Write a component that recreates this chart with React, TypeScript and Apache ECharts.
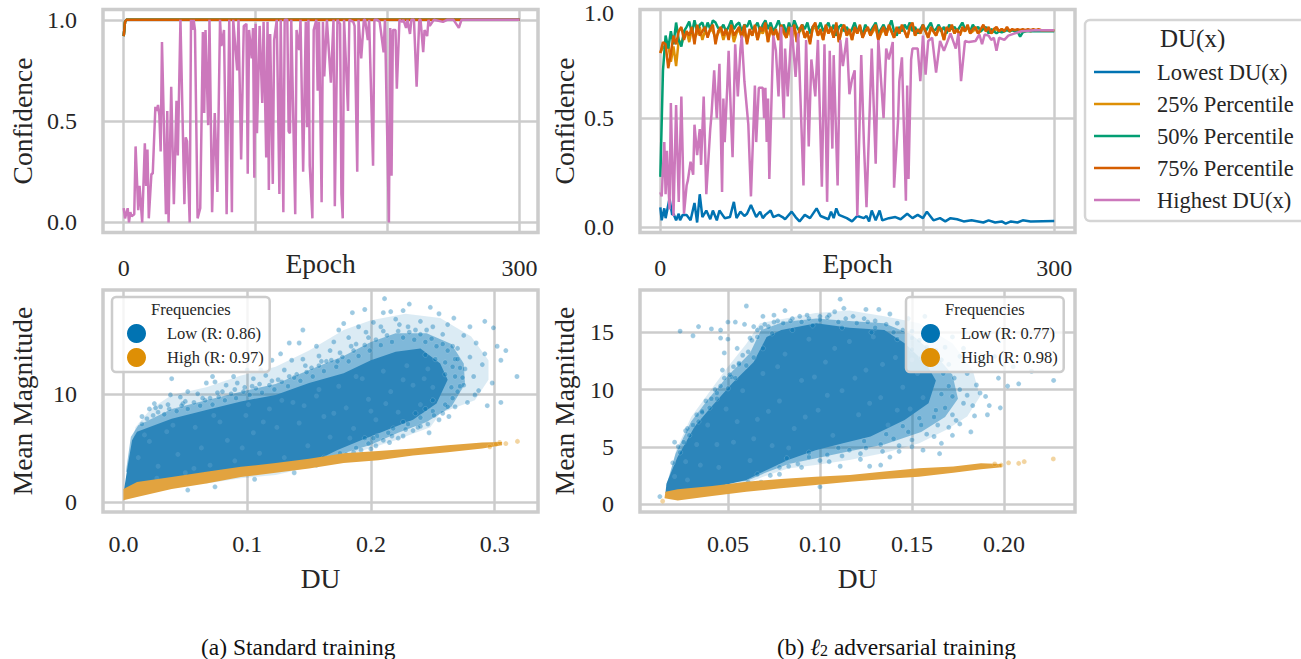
import React, { useEffect, useRef } from "react";
import * as echarts from "echarts";

const BLUE = "#0173b2", YELLOW = "#de8f05", GREEN = "#029e73", ORANGE = "#d55e00", PINK = "#cc78bc";
const FONT = "'Liberation Serif', serif";
const INK = "#262626";
const RULE = "#cccccc";

const lineNames = ["Lowest DU(x)", "25% Percentile", "50% Percentile", "75% Percentile", "Highest DU(x)"];

// Standard training: the four lower lines sit together at 1.0
const stdFlat = [[0, 0.92], [1, 0.99], [2, 1], [300, 1]];
const stdHighest = [[0,.07],[1,.02],[3,.07],[4,0],[5,.05],[6,.03],[8,.04],[9,.375],[11,.06],[12,.18],[14,0],[16,.39],[17,.18],[18,.36],[19,.02],[21,.24],[22,.24],[24,.57],[25,.55],[26,.58],[27,.53],[28,.35],[29,.89],[32,.04],[33,.55],[34,0],[36,.67],[38,.09],[40,.6],[41,.33],[43,1],[46,.09],[47,.42],[48,.4],[50,0],[51,1],[52,.95],[53,1],[54,.95],[56,.02],[58,.07],[60,.94],[61,.54],[62,.95],[64,.48],[65,1],[67,.05],[69,.54],[71,.15],[73,1],[74,.87],[76,.95],[78,.04],[80,1],[82,.05],[83,1],[86,.75],[87,1],[89,.31],[91,.97],[93,.98],[94,.24],[95,.95],[97,.81],[98,.96],[99,.22],[100,.98],[101,.44],[103,.97],[105,.59],[106,.99],[108,.32],[109,.99],[110,.16],[111,.93],[113,.19],[114,.9],[116,1],[118,.14],[119,1],[121,.05],[122,1],[124,1],[125,.45],[126,.44],[127,1],[130,.04],[131,.95],[133,.85],[134,1],[136,.25],[138,.99],[139,.47],[140,1],[141,.28],[143,.02],[144,.95],[146,1],[147,.65],[148,.99],[150,.1],[151,.99],[152,.72],[154,1],[157,.69],[159,1],[160,.08],[162,1],[164,.98],[165,.14],[166,.02],[167,1],[170,.55],[171,1],[174,.99],[175,.97],[177,.25],[178,1],[180,.81],[182,1],[183,1],[185,.9],[186,1],[189,.28],[190,1],[192,1],[194,.99],[197,.84],[198,1],[201,0],[202,.96],[203,.23],[204,.95],[206,.95],[207,.66],[209,1],[211,.99],[212,1],[214,.96],[215,1],[217,.93],[218,1],[220,1],[222,.67],[224,1],[225,1],[227,.84],[228,.95],[230,.92],[231,1],[232,.97],[235,1],[242,.99],[245,1],[250,1],[254,.96],[256,1],[300,1]];

// Adversarial training
const advLowest = [[0,.09],[1,.03],[3,.085],[4,.04],[6,.1],[7,.13],[9,.055],[10,.06],[12,.03],[14,.06],[15,.03],[17,.055],[20,.055],[23,.03],[26,.11],[28,.02],[30,.15],[32,.045],[35,.075],[38,.035],[40,.075],[43,.03],[45,.075],[49,.04],[53,.045],[56,.115],[58,.04],[61,.07],[64,.05],[66,.06],[69,.1],[73,.045],[76,.07],[78,.04],[80,.055],[84,.075],[86,.045],[90,.055],[93,.045],[95,.035],[100,.07],[103,.045],[106,.025],[110,.055],[114,.04],[119,.085],[122,.05],[128,.035],[130,.07],[132,.04],[134,.085],[136,.055],[142,.04],[146,.025],[150,.05],[155,.04],[157,.05],[159,.025],[161,.075],[164,.03],[167,.075],[169,.03],[174,.04],[179,.045],[183,.035],[188,.06],[192,.04],[196,.055],[200,.04],[203,.07],[208,.03],[213,.04],[217,.025],[221,.04],[226,.035],[231,.025],[237,.03],[242,.025],[246,.02],[250,.03],[255,.02],[260,.025],[263,.015],[267,.025],[272,.02],[276,.03],[282,.025],[300,.027]];
const advP25 = [.80,.83,.82,.84,.76,.83,.74,.86,.84,.88,.90,.85,.91,.87,.89,.92,.86,.90,.88,.91,.90,.87,.89,.91,.86,.90,.88,.92,.85,.89,.91,.87,.90,.85,.90,.88,.92,.86,.90,.89,.92,.85,.91,.88,.90,.86,.92,.89,.87,.91,.86,.92,.85,.90,.91,.87,.89,.85,.91,.92,.88,.90,.86,.92,.89,.91,.87,.93,.85,.90,.92,.88,.90,.86,.91,.89,.92,.87,.90,.91,.88,.90,.92,.86,.89,.91,.88,.92,.90,.87,.91,.89,.92,.90,.87,.91,.93,.88,.90,.89,.92,.90,.87,.91,.90,.88,.91,.90,.86,.91,.90,.92,.89,.91,.88,.91,.90,.92,.89,.90,.91,.89,.90,.92,.90,.91,.89,.90,.91,.90,.91,.90,.91,.90,.905,.90,.905,.90,.905,.90,.905,.90,.905,.905,.905,.905,.905,.905,.905,.905,.905];
const advP50 = [.23,.72,.88,.82,.90,.84,.94,.86,.83,.90,.92,.945,.89,.95,.90,.93,.94,.90,.94,.91,.95,.94,.915,.91,.93,.90,.92,.95,.91,.93,.94,.90,.93,.92,.95,.91,.92,.94,.90,.93,.95,.91,.94,.90,.92,.95,.91,.93,.89,.94,.90,.95,.92,.90,.93,.91,.94,.89,.92,.93,.91,.94,.90,.92,.94,.90,.93,.88,.92,.93,.90,.92,.89,.91,.94,.90,.92,.88,.93,.91,.90,.92,.94,.89,.91,.93,.90,.92,.95,.90,.88,.92,.90,.93,.91,.94,.90,.92,.89,.91,.93,.90,.92,.94,.90,.91,.93,.90,.92,.89,.93,.91,.92,.90,.92,.94,.91,.92,.90,.93,.91,.92,.90,.91,.92,.89,.91,.90,.89,.90,.895,.90,.905,.90,.905,.90,.90,.875,.895,.90,.90,.90,.90,.90,.90,.90,.90,.90,.90,.90,.90];
const advP75 = [.80,.85,.84,.73,.80,.88,.84,.90,.92,.86,.90,.88,.92,.84,.93,.88,.90,.92,.87,.91,.93,.84,.90,.92,.88,.91,.86,.93,.88,.90,.92,.87,.93,.84,.91,.88,.93,.86,.92,.90,.94,.85,.92,.88,.91,.86,.93,.90,.87,.92,.89,.93,.85,.91,.93,.87,.90,.84,.92,.94,.88,.91,.86,.93,.89,.92,.87,.94,.85,.91,.93,.88,.91,.86,.92,.89,.93,.87,.90,.92,.88,.91,.93,.86,.90,.92,.88,.93,.90,.87,.92,.89,.93,.90,.87,.92,.94,.88,.91,.89,.93,.90,.87,.92,.90,.88,.92,.91,.86,.92,.90,.93,.89,.91,.88,.92,.90,.93,.89,.91,.92,.89,.91,.93,.90,.92,.89,.91,.92,.90,.91,.90,.92,.90,.91,.905,.91,.905,.91,.905,.91,.905,.91,.905,.91,.905,.905,.905,.905,.905,.905];
const advHighest = [[0,.16],[1,.14],[3,.39],[4,.15],[5,.35],[7,.08],[8,.57],[10,.05],[12,.56],[14,.115],[16,.6],[18,.06],[20,.19],[21,.215],[23,.3],[25,.24],[26,.47],[28,.33],[30,.45],[31,.285],[33,.6],[35,.15],[38,.45],[39,.52],[41,.72],[43,.5],[45,.75],[47,.16],[48,.59],[49,.39],[51,.65],[52,.81],[54,.47],[55,.32],[57,.84],[59,.6],[61,.82],[62,.88],[64,.67],[67,.47],[69,.14],[72,.65],[73,.39],[75,.64],[78,.64],[79,.5],[80,.64],[81,.39],[82,.59],[83,.22],[86,.88],[88,.81],[90,.6],[92,.92],[93,.65],[94,.5],[95,.82],[97,.6],[99,.82],[100,.92],[103,.69],[105,.89],[109,.19],[111,.86],[113,.37],[115,.77],[118,.6],[120,.86],[123,.185],[125,.84],[127,.115],[129,.81],[131,.36],[132,.79],[135,.19],[137,.86],[139,.74],[142,.87],[144,.61],[146,.68],[148,.72],[150,.05],[153,.79],[155,.39],[157,.09],[161,.82],[164,.29],[166,.86],[170,.5],[172,.82],[174,.77],[177,.85],[178,.18],[181,.485],[182,.67],[184,.78],[187,.12],[188,.65],[189,.22],[191,.77],[192,.82],[196,.82],[198,.67],[200,.88],[202,.7],[204,.855],[207,.87],[210,.71],[213,.855],[216,.81],[221,.89],[225,.82],[227,.89],[229,.67],[232,.855],[235,.85],[240,.855],[243,.885],[245,.84],[247,.885],[250,.88],[252,.86],[254,.87],[256,.81],[258,.87],[262,.86],[265,.88],[270,.89],[275,.9],[285,.905],[300,.905]];

// DU vs magnitude: outlines of the saturated clouds and the loose points around them
const stdLowCore = [[.0006,1.2],[.0033,3.2],[.007,5.7],[.011,6.5],[.039,7.7],[.067,8.5],[.095,9.3],[.123,9.9],[.15,11],[.178,11.9],[.2,13.1],[.22,13.9],[.24,14.2],[.256,12.8],[.262,11.3],[.253,9.1],[.234,7.6],[.212,6.6],[.192,5.7],[.173,4.8],[.15,3.5],[.123,2.9],[.095,2.5],[.067,2],[.039,1.5],[.011,1.1]];
const stdLowMid = [[.002,2.8],[.006,6],[.012,7.1],[.039,8.6],[.067,9.4],[.095,10.2],[.123,10.9],[.15,12.2],[.178,13.5],[.2,14.8],[.22,15.6],[.245,15.6],[.265,14.6],[.275,12.8],[.276,10.9],[.265,8.8],[.245,7.4],[.222,6.4],[.2,5.3],[.178,4.5],[.15,3.4],[.123,2.8],[.095,2.4],[.067,1.9]];
const stdLowHaze = [[.0033,3.2],[.0097,6.9],[.022,8.6],[.039,9.9],[.067,10.6],[.095,11.7],[.123,12.5],[.15,14],[.178,15.9],[.2,16.8],[.228,17.4],[.256,17],[.281,15.3],[.295,13.1],[.295,11.3],[.284,9.4],[.256,8.2],[.248,6.9],[.22,5.7],[.178,4.2],[.15,3.2],[.123,2.5],[.095,2.2],[.067,1.7]];
const stdHighBand = [[0,.15],[0,1.2],[.011,1.85],[.039,2.3],[.067,2.8],[.095,3.25],[.123,3.6],[.15,4],[.178,4.5],[.206,4.7],[.234,4.95],[.262,5.25],[.29,5.5],[.306,5.55],[.306,5.25],[.29,4.95],[.262,4.6],[.234,4.3],[.206,3.85],[.178,3.6],[.15,3.1],[.123,2.7],[.095,2.3],[.067,1.7],[.039,1.2],[.011,.45]];
const stdLowDots = [[.211,18.8],[.231,18.3],[.248,18],[.185,17.5],[.195,17.8],[.21,17.5],[.216,17.6],[.226,17.7],[.255,17.4],[.267,17],[.292,16.7],[.299,16.1],[.145,15.9],[.174,15.9],[.178,16.5],[.28,16.2],[.309,14],[.302,14.4],[.305,13.1],[.318,11.6],[.305,9.2],[.294,8.9],[.29,12.7],[.298,11],[.284,9.9],[.287,10.3],[.039,11.4],[.072,11.6],[.074,11.1],[.067,11],[.089,11.6],[.1,12.2],[.111,12.2],[.12,13.1],[.127,13.7],[.134,14.7],[.142,14.7],[.156,14.4],[.167,14],[.136,13.1],[.025,9.1],[.038,9.9],[.052,10.2],[.021,8.6],[.015,7.9],[.03,8.8],[.046,9.7],[.06,10],[.083,10.8],[.092,11],[.105,11.4],[.115,11.7],[.13,12.2],[.145,13.2],[.158,13.5],[.17,14.8],[.182,15.2],[.19,16.2],[.202,16.6],[.22,16.9],[.24,16.7],[.262,16.4],[.275,15.4],[.285,14.7],[.292,13.7],[.28,13.4],[.27,14.2],[.276,12.3],[.283,11.6],[.272,10.7],[.278,9.2],[.268,8.8],[.263,7.9],[.255,7.6],[.247,6.4],[.238,6.9],[.226,6.1],[.215,5.5],[.2,4.9],[.188,5],[.16,3.6],[.052,1.1],[.074,1.4],[.106,2.1],[.138,2.7],[.048,9.1],[.07,9.6],[.08,10.2],[.098,10.6],[.11,10.9],[.125,11.3],[.14,11.8],[.152,12.4],[.164,13],[.175,13.8],[.188,14.6],[.198,15.2],[.21,15.8],[.23,16.2],[.245,15.9],[.258,15.5],[.268,13.2],[.274,11.5],[.26,9],[.25,8.4],[.24,7.8],[.23,7.2],[.218,6.8],[.205,6.1],[.195,5.9],[.175,4.5]];
const stdLowRim = [[.015,7.2],[.019,7.7],[.024,8],[.028,8.3],[.033,8.1],[.037,8.6],[.043,8.4],[.047,8.9],[.052,8.6],[.057,9.2],[.062,8.9],[.066,9.4],[.072,9],[.077,9.7],[.082,9.4],[.087,10],[.091,9.6],[.097,10.2],[.102,9.9],[.107,10.5],[.112,10.1],[.118,10.8],[.122,10.4],[.128,11.1],[.133,10.7],[.138,11.5],[.143,11.2],[.148,12],[.153,11.6],[.158,12.6],[.162,12.1],[.168,13.1],[.172,12.5],[.177,13.4],[.182,13],[.186,14],[.19,13.5],[.195,14.5],[.199,14],[.204,15],[.208,14.5],[.213,15.4],[.217,14.8],[.222,15.8],[.226,15.2],[.231,15.7],[.235,15],[.24,15.5],[.244,14.8],[.249,15.1],[.253,14.4],[.258,14.6],[.262,14],[.266,14.4],[.27,13.2],[.266,12.5],[.272,12.4],[.268,11.6],[.275,10.8],[.27,10.2],[.266,9.6],[.262,8.8],[.258,8.2],[.251,8],[.246,7.2],[.24,7],[.234,6.6],[.228,6.7],[.222,5.9],[.217,6.1],[.21,5.7],[.204,5.2],[.198,5.4],[.192,4.8],[.186,4.6],[.18,4.4],[.174,4.2],[.168,3.9],[.162,4.1],[.156,3.4],[.236,15.9],[.25,16.2],[.223,16.4],[.208,16.2],[.196,15.7],[.184,14.4],[.173,13],[.16,13],[.147,12.6],[.134,11.6],[.12,11.2],[.104,10.7],[.09,10.4],[.076,10.1],[.064,9.6],[.05,9.3],[.036,9],[.026,8.7],[.244,13.6],[.252,13.2],[.26,12.9],[.26,11.8],[.265,10.6],[.25,9.4],[.244,8.6],[.236,8.2],[.226,7.4],[.214,6.4],[.202,5.9]];
const stdCoreSpeckle = [[.012,4.1],[.021,5.6],[.028,3.3],[.035,6.5],[.044,4.4],[.05,2.7],[.058,6.9],[.063,5],[.07,3.4],[.078,7.4],[.084,5.7],[.09,3.8],[.099,8],[.105,6.4],[.11,4.5],[.118,8.6],[.124,6.9],[.13,4.1],[.137,9.2],[.142,7.3],[.149,5.2],[.156,9.8],[.162,7.9],[.167,6],[.174,10.7],[.18,8.7],[.186,6.8],[.193,11.4],[.198,9.5],[.204,7.6],[.21,12.1],[.216,10.2],[.222,8.3],[.229,12.6],[.234,10.8],[.24,9],[.246,12.3],[.25,10.6],[.017,6.2],[.04,7.1],[.073,8],[.101,9],[.128,9.4],[.158,10.4],[.188,11.6],[.212,9.1],[.226,11.3],[.243,11.4],[.027,2.2],[.057,3.1],[.096,5],[.113,7.4],[.146,8.9],[.17,8.2],[.2,8.4],[.183,5.9]];
const stdHighDots = [[.3184,5.6],[.309,5.4],[.301,5.35],[.296,5.1],[.304,5.5]];
const advLowCore = [[.016,.93],[.0166,1.8],[.0226,4.1],[.032,6.8],[.041,8.5],[.0526,10.6],[.064,12.4],[.071,14.6],[.079,15.2],[.098,15.8],[.116,15.4],[.135,15.2],[.146,14.05],[.1575,12.3],[.163,10.8],[.159,8.8],[.146,7.35],[.1275,5.9],[.1125,5.3],[.0976,4.7],[.0826,3.85],[.0714,3],[.06,2.1],[.041,1.4],[.0226,.93]];
const advLowMid = [[.0165,1.6],[.0215,4.4],[.03,7.2],[.039,9.1],[.05,11.2],[.062,13.2],[.068,15.2],[.08,15.9],[.098,16.2],[.116,16],[.135,15.8],[.15,14.8],[.163,13],[.172,11.3],[.175,9.2],[.168,7.6],[.155,6.3],[.135,5.2],[.116,4.6],[.098,4],[.083,3.5],[.07,2.7],[.06,2]];
const advLowHaze = [[.017,1.5],[.0218,4.7],[.03,7.6],[.039,9.6],[.0486,11.7],[.06,14],[.0674,15.8],[.0976,16.7],[.116,16.9],[.135,16.4],[.154,15.8],[.172,14.05],[.183,11.7],[.187,9.4],[.18,7.65],[.169,6.5],[.154,5.3],[.135,4.45],[.116,3.85],[.0976,3.4],[.0826,3.1],[.0695,2.4],[.06,1.8]];
const advHighBand = [[.0155,.5],[.016,1.08],[.0227,1.28],[.0414,1.57],[.06,1.95],[.0788,2.19],[.0976,2.39],[.1163,2.54],[.135,2.83],[.1537,3.12],[.1725,3.27],[.1875,3.56],[.1987,3.5],[.1987,3.2],[.1875,3.03],[.1725,2.74],[.1537,2.39],[.135,2.19],[.1163,1.95],[.0976,1.66],[.0788,1.37],[.06,1.08],[.0414,.7],[.0227,.3]];
const advLowDots = [[.111,17.9],[.06,17.3],[.081,16.9],[.069,16.4],[.075,16.5],[.024,15.1],[.031,14.7],[.034,15.5],[.041,15.3],[.046,15.2],[.046,14.5],[.05,14.4],[.05,15.9],[.054,15.9],[.059,15.7],[.064,15.5],[.132,17],[.125,17],[.113,17.1],[.108,16.8],[.093,16.5],[.089,16.4],[.124,16.2],[.142,15.8],[.157,16.4],[.227,10.8],[.208,10.5],[.202,10.3],[.197,11],[.198,8.4],[.192,8.6],[.183,8.6],[.18,9.5],[.187,9.7],[.166,5.3],[.156,4.7],[.172,6],[.174,7.3],[.133,3.4],[.127,3.3],[.111,3.3],[.1,1.5],[.013,.65],[.047,11.7],[.056,12.2],[.052,11.1],[.044,9.7],[.036,8.1],[.027,6.4],[.021,5.4],[.048,13.2],[.055,13.6],[.062,14.5],[.066,15.2],[.07,15.7],[.077,16],[.085,16.2],[.1,16.4],[.105,16.5],[.118,16.4],[.13,16],[.15,15.1],[.16,14.5],[.168,13.7],[.176,12.9],[.18,11.4],[.185,10.4],[.19,9.4],[.184,7.7],[.176,7],[.17,6.7],[.162,5.9],[.15,5],[.143,4.6],[.138,4.1],[.122,3.9],[.105,3.7],[.09,3.2],[.078,2.6],[.068,1.9],[.215,11.6],[.205,12],[.195,12.9],[.188,12.6],[.178,13.6],[.172,14.6],[.163,15.4],[.148,16.2],[.138,16.6],[.191,7.8],[.182,6.3],[.165,4.4]];
const advLowRim = [[.02,3.6],[.023,5],[.026,5.4],[.028,6.6],[.031,6.9],[.033,7.8],[.036,8],[.038,9],[.041,9.2],[.043,10],[.046,10.3],[.048,11],[.051,11.3],[.053,12],[.056,12.3],[.058,13],[.061,13.3],[.063,14.3],[.066,14.6],[.068,15.4],[.072,15.5],[.075,15.9],[.08,15.8],[.084,16],[.09,15.9],[.094,16.2],[.1,16.1],[.104,16.3],[.11,15.9],[.114,16.2],[.12,15.8],[.126,15.9],[.13,15.4],[.136,15.7],[.14,15],[.145,15.2],[.15,14.5],[.154,14.3],[.158,13.7],[.163,13.4],[.166,12.6],[.17,12.2],[.167,11.4],[.173,11],[.17,10.3],[.176,10],[.172,9.4],[.178,8.8],[.168,8.4],[.172,7.8],[.162,7.6],[.164,6.9],[.155,6.9],[.158,6.1],[.148,6.3],[.15,5.6],[.14,5.7],[.143,5.1],[.133,5.2],[.134,4.6],[.125,4.9],[.122,4.4],[.116,4.7],[.112,4.2],[.104,4.3],[.1,3.8],[.094,4.1],[.088,3.5],[.083,3.3],[.078,3.2],[.073,2.5],[.066,2.6],[.061,1.9],[.155,12.8],[.16,12.3],[.15,13.5],[.142,14.4],[.128,15],[.112,15.4],[.096,15.6],[.085,15.2],[.074,14.9],[.069,13.6],[.064,12.8],[.06,12.1],[.054,11],[.05,10.1],[.044,9.2],[.04,8.4],[.034,7.2],[.029,6],[.024,4.5],[.166,9.6],[.163,8.2],[.154,7.5],[.145,6.8],[.136,6.1],[.124,5.5],[.11,4.9],[.094,4.5],[.082,4]];
const advCoreSpeckle = [[.021,2.4],[.027,3.7],[.033,5.2],[.039,6.9],[.045,3.2],[.049,8.3],[.053,5.4],[.058,9.9],[.062,3.8],[.066,7.4],[.069,11.4],[.074,5.1],[.078,9],[.081,13.1],[.086,6.6],[.09,10.8],[.094,14.4],[.099,8.2],[.103,12.4],[.107,6],[.112,9.9],[.116,14.2],[.121,7.8],[.125,11.7],[.129,14.6],[.133,9.3],[.137,6.9],[.141,12.8],[.145,10.2],[.149,8.3],[.153,11.4],[.156,9.3],[.072,8.1],[.083,4.9],[.097,11.1],[.108,13.6],[.119,11],[.134,12.2],[.064,5.7],[.055,7.2],[.044,5.2],[.035,3.4],[.028,2.1],[.077,12],[.092,7.6],[.104,9.5],[.127,8.8],[.142,8.2],[.15,12.6]];
const advHighDots = [[.2025,3.6],[.208,3.55],[.211,3.7],[.2268,3.94],[.1985,3.4],[.195,3.5],[.0145,.25]];

const everyTwo = (vals: number[]) => vals.map((v, i) => [i * 2, v]);

const lineSeries = (name: string, color: string, data: number[][], gridIndex: number, z = 3) => ({
  type: "line", name, data, xAxisIndex: gridIndex, yAxisIndex: gridIndex, z,
  showSymbol: false, symbol: "none", lineStyle: { color, width: 2.5 }, itemStyle: { color }, color,
  silent: true,
});

const cloud = (points: number[][], fill: string, gridIndex: number, z: number) => ({
  type: "custom", coordinateSystem: "cartesian2d", xAxisIndex: gridIndex, yAxisIndex: gridIndex, z,
  silent: true, clip: true, data: [points[0]],
  renderItem: (_: any, api: any) => ({
    type: "polygon",
    shape: { points: points.map((p) => api.coord(p)) },
    style: { fill, stroke: "none" },
  }),
});

const dots = (name: string, color: string, data: number[][], gridIndex: number, z: number) => ({
  type: "scatter", name, data, xAxisIndex: gridIndex, yAxisIndex: gridIndex, z, silent: true,
  symbolSize: 5, itemStyle: { color, opacity: 0.38, borderColor: "#fff", borderWidth: 0.4 },
});

const speckle = (data: number[][], gridIndex: number, z: number) => ({
  type: "scatter", data, xAxisIndex: gridIndex, yAxisIndex: gridIndex, z, silent: true,
  symbolSize: 5, itemStyle: { color: "#66a8d2", opacity: 0.35, borderWidth: 0 },
});

const axisBase = {
  axisLine: { show: false }, axisTick: { show: false },
  splitLine: { show: true, lineStyle: { color: RULE, width: 2.5 } },
};
const labelStyle = { fontFamily: FONT, fontSize: 24, color: INK };
const nameStyle = { fontFamily: FONT, fontSize: 27.5, color: INK };

const xAxis = (gridIndex: number, min: number, max: number, ticks: number[], name: string, gap: number, margin: number, fmt: (v: number) => string) => ({
  type: "value", gridIndex, min, max, ...axisBase,
  axisTick: { show: false, customValues: ticks },
  name, nameLocation: "middle", nameGap: gap, nameTextStyle: nameStyle, nameMoveOverlap: false,
  axisLabel: { ...labelStyle, customValues: ticks, margin, formatter: fmt, hideOverlap: false, showMinLabel: true, showMaxLabel: true },
});
const yAxis = (gridIndex: number, min: number, max: number, ticks: number[], name: string, gap: number, fmt: (v: number) => string) => ({
  type: "value", gridIndex, min, max, ...axisBase,
  axisTick: { show: false, customValues: ticks },
  name, nameLocation: "middle", nameGap: gap, nameTextStyle: nameStyle, nameMoveOverlap: false,
  axisLabel: {
    ...labelStyle, customValues: ticks, margin: 26, formatter: fmt, hideOverlap: false,
    rich: { low: { fontFamily: FONT, fontSize: 24, color: INK, padding: [6, 0, 0, 0] } },
  },
});
const grid = (left: number, top: number) => ({
  left, top, width: 435, height: top < 100 ? 223 : 222, show: true, borderColor: RULE, borderWidth: 3.5, backgroundColor: "#fff",
  outerBoundsMode: "none",
});

const epochFmt = (v: number) => (v === 0 || v === 300 ? String(v) : "");
const fixed1 = (v: number) => v.toFixed(1);
const fixed1Top = (v: number) => (v === 1 ? "{low|1.0}" : v.toFixed(1));
const fixed2 = (v: number) => v.toFixed(2);
const plain = (v: number) => String(v);
const epochTicks = [0, 100, 200, 300];

const scatterLegend = (left: number, low: string, high: string) => ({
  show: true, left, top: 297, orient: "vertical", data: [low, high], selectedMode: false,
  icon: "circle", itemWidth: 19, itemHeight: 19, itemGap: 5, itemStyle: { opacity: 1, borderWidth: 0 },
  padding: [27, 6, 5, 15], backgroundColor: "rgba(255,255,255,0.8)", borderColor: RULE, borderWidth: 2.5, borderRadius: 4,
  textStyle: { fontFamily: FONT, fontSize: 16.5, color: INK, padding: [0, 0, 0, 16] }, z: 20,
});

const option: any = {
  animation: false,
  backgroundColor: "#fff",
  grid: [grid(103, 9.5), grid(640, 9.5), grid(103, 290), grid(640, 290)],
  xAxis: [
    xAxis(0, -15.7, 314, epochTicks, "Epoch", 17, 23, epochFmt),
    xAxis(1, -15.5, 315.8, epochTicks, "Epoch", 17, 23, epochFmt),
    xAxis(2, -0.0165, 0.335, [0, 0.1, 0.2, 0.3], "DU", 52, 20, fixed1),
    xAxis(3, 0.0022, 0.2386, [0.05, 0.1, 0.15, 0.2], "DU", 52, 20, fixed2),
  ],
  yAxis: [
    yAxis(0, -0.05, 1.051, [0, 0.5, 1], "Confidence", 67, fixed1),
    yAxis(1, -0.026, 1.0, [0, 0.5, 1], "Confidence", 62, fixed1Top),
    yAxis(2, -0.93, 19.6, [0, 10], "Mean Magnitude", 67, plain),
    yAxis(3, -0.7, 18.7, [0, 5, 10, 15], "Mean Magnitude", 62, plain),
  ],
  legend: [
    {
      show: true, left: 1085, top: 20, orient: "vertical", data: lineNames, selectedMode: false,
      icon: "rect", itemWidth: 46, itemHeight: 2.5, itemGap: 6, padding: [39, 30, 8, 9],
      backgroundColor: "#fff", borderColor: "#d5d5d5", borderWidth: 2.5, borderRadius: 5,
      textStyle: { fontFamily: FONT, fontSize: 22.5, lineHeight: 26, color: INK, padding: [0, 0, 0, 12] }, z: 20,
    },
    scatterLegend(112, "Low (R: 0.86)", "High (R: 0.97)"),
    scatterLegend(906, "Low (R: 0.77)", "High (R: 0.98)"),
  ],
  series: [
    lineSeries(lineNames[0], BLUE, stdFlat, 0),
    lineSeries(lineNames[1], YELLOW, stdFlat, 0),
    lineSeries(lineNames[2], GREEN, stdFlat, 0),
    lineSeries(lineNames[3], ORANGE, stdFlat, 0),
    lineSeries(lineNames[4], PINK, stdHighest, 0),
    lineSeries(lineNames[0], BLUE, advLowest, 1),
    lineSeries(lineNames[1], YELLOW, everyTwo(advP25), 1),
    lineSeries(lineNames[2], GREEN, everyTwo(advP50), 1),
    lineSeries(lineNames[3], ORANGE, everyTwo(advP75), 1),
    lineSeries(lineNames[4], PINK, advHighest, 1),
    cloud(stdLowHaze, "rgba(1,115,178,0.14)", 2, 3),
    cloud(stdLowMid, "rgba(1,115,178,0.42)", 2, 3),
    cloud(stdLowCore, "#2c85ba", 2, 3),
    speckle(stdCoreSpeckle, 2, 3),
    dots("Low (R: 0.86)", BLUE, stdLowDots, 2, 4),
    dots("Low (R: 0.86)", BLUE, stdLowRim, 2, 4),
    cloud(stdHighBand, "#e2a33f", 2, 5),
    dots("High (R: 0.97)", YELLOW, stdHighDots, 2, 6),
    cloud(advLowHaze, "rgba(1,115,178,0.14)", 3, 3),
    cloud(advLowMid, "rgba(1,115,178,0.42)", 3, 3),
    cloud(advLowCore, "#2c85ba", 3, 3),
    speckle(advCoreSpeckle, 3, 3),
    dots("Low (R: 0.77)", BLUE, advLowDots, 3, 4),
    dots("Low (R: 0.77)", BLUE, advLowRim, 3, 4),
    cloud(advHighBand, "#e2a33f", 3, 5),
    dots("High (R: 0.98)", YELLOW, advHighDots, 3, 6),
  ],
  graphic: [
    { type: "text", left: 1160, top: 26, z: 30, style: { text: "DU(x)", font: `25px ${FONT}`, fill: INK } },
    { type: "text", left: 151, top: 301, z: 30, style: { text: "Frequencies", font: `16.5px ${FONT}`, fill: INK } },
    { type: "text", left: 945, top: 301, z: 30, style: { text: "Frequencies", font: `16.5px ${FONT}`, fill: INK } },
    { type: "text", left: 201, top: 635, z: 30, style: { text: "(a) Standard training", font: `23.5px ${FONT}`, lineHeight: 23, fill: "#111" } },
    {
      type: "text", left: 777, top: 635, z: 30,
      style: {
        text: "(b) {i|ℓ}{s|2} adversarial training", font: `23.5px ${FONT}`, lineHeight: 23, fill: "#111",
        rich: {
          i: { font: `italic 23.5px ${FONT}`, lineHeight: 23, fill: "#111" },
          s: { font: `16px ${FONT}`, fill: "#111", lineHeight: 23, verticalAlign: "bottom", padding: [6, 0, 0, 0] },
        },
      },
    },
  ],
};

export default function App() {
  const ref = useRef<HTMLDivElement>(null);
  useEffect(() => {
    document.body.style.margin = "0";
    const chart = echarts.init(ref.current!, undefined, { renderer: "svg" });
    chart.setOption(option);
    return () => chart.dispose();
  }, []);
  return <div ref={ref} style={{ width: 1301, height: 659, position: "fixed", left: 0, top: 0 }} />;
}
